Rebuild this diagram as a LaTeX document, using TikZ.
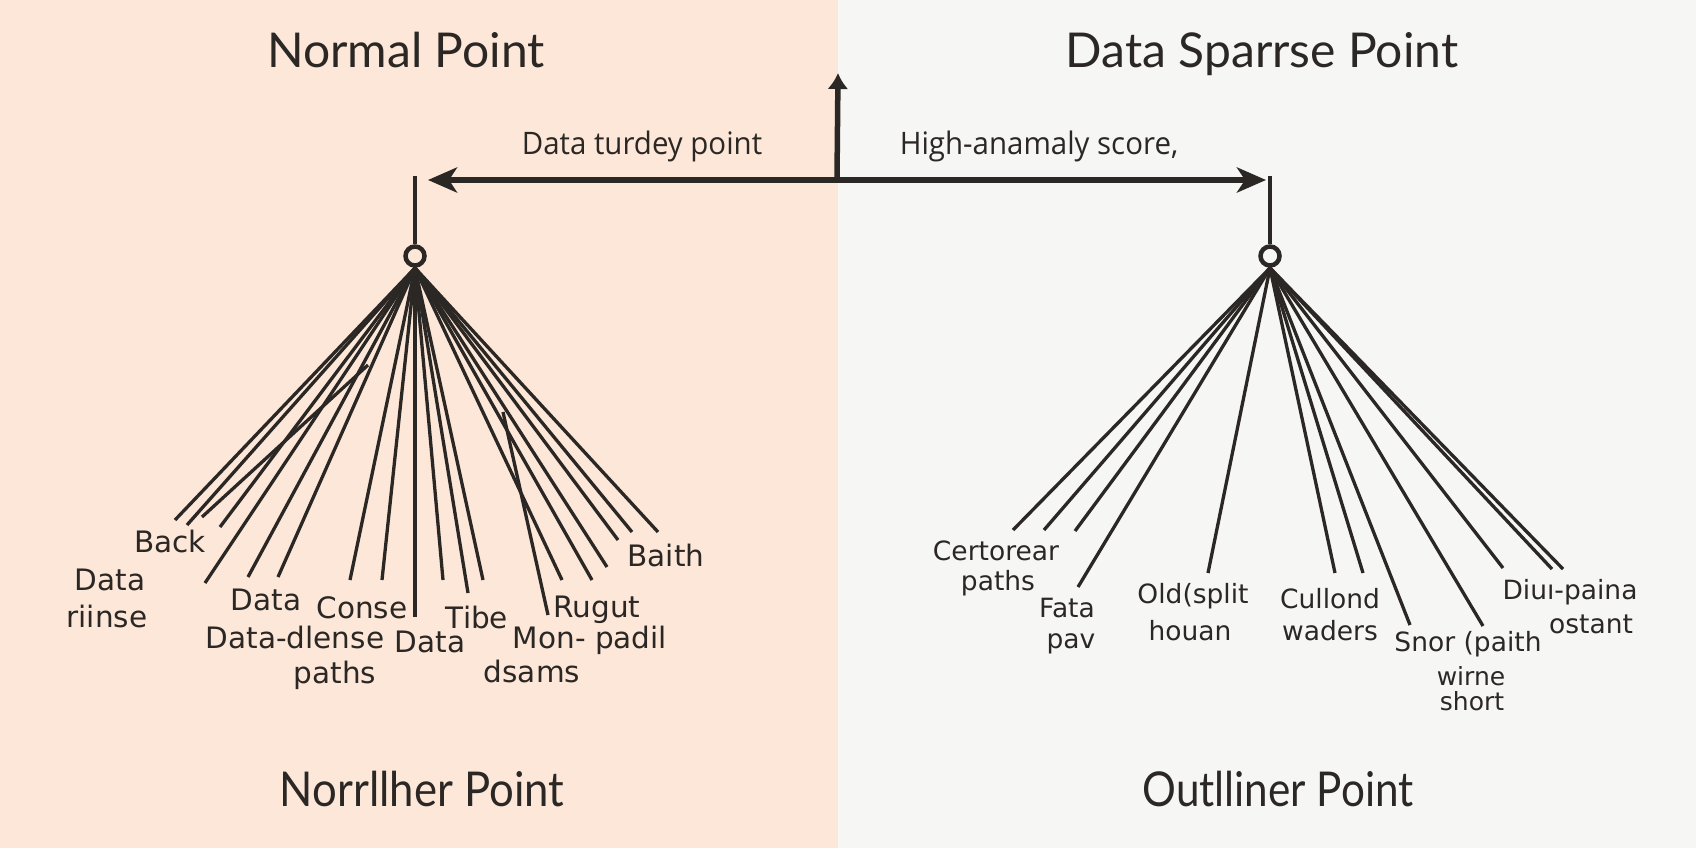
\documentclass[tikz,border=0pt]{standalone}
\usepackage{fontspec}
\usepackage{graphicx}
\setmainfont{DejaVu Sans}
\newfontfamily\titlefont{Lato}
\newfontfamily\condfont[FakeStretch=0.95]{Open Sans}
\usetikzlibrary{arrows.meta}
\definecolor{ink}{HTML}{2B2724}
\definecolor{peach}{HTML}{FCE7D8}
\definecolor{paper}{HTML}{F6F6F5}
\begin{document}
\begin{tikzpicture}[x=1pt,y=-1pt,
  fanline/.style={draw=ink,line width=3.3pt},
  mainline/.style={draw=ink,line width=5.5pt},
  stubline/.style={draw=ink,line width=4pt},
  hub/.style={circle,draw=ink,line width=4.5pt,minimum size=19pt,inner sep=0pt},
  ttl/.style={font=\titlefont\fontsize{48}{56}\selectfont,text=ink,anchor=base,inner sep=0pt},
  arrlbl/.style={font=\condfont\fontsize{31}{36}\selectfont,text=ink,anchor=base,inner sep=0pt},
  lbl/.style={font=\fontsize{29.5}{36}\selectfont,text=ink,anchor=base,inner sep=0pt},
  rlbl/.style={font=\fontsize{26.5}{32}\selectfont,text=ink,anchor=base,inner sep=0pt},
  slbl/.style={font=\fontsize{25}{30}\selectfont,text=ink,anchor=base,inner sep=0pt}]
\useasboundingbox (0,0) rectangle (1696,848);
\fill[peach] (0,0) rectangle (838,848);
\fill[paper] (838,0) rectangle (1696,848);

% titles
\node[ttl] (t1) at (406,68) {Normal Point};
\node[ttl] (t2) at (1262,68) {Data Sparrse Point};
\node[ttl] (t3) at (422,806) {\scalebox{0.91}[1]{Norrllher Point}};
\node[ttl] (t4) at (1278,806) {\scalebox{0.88}[1]{Outlliner Point}};

% arrow labels
\node[arrlbl] (a1) at (642,154) {Data turdey point};
\node[arrlbl] (a2) at (1039,154) {High-anamaly score,};

% hubs
\node[hub,fill=peach] (hubL) at (415,256) {};
\node[hub,fill=paper] (hubR) at (1270,256) {};
\coordinate (topL) at (415,176);
\coordinate (topR) at (1270,176);
\coordinate (mid) at (837,180);
\coordinate (tipL) at (428,180);
\coordinate (tipR) at (1266,180);
\coordinate (tipU) at (838,73);

\draw[stubline] (hubL.north) -- (topL);
\draw[stubline] (hubR.north) -- (topR);
\draw[mainline,-{Stealth[length=29pt,width=25pt,inset=8pt]}] (mid) -- (tipL);
\draw[mainline,-{Stealth[length=29pt,width=25pt,inset=8pt]}] (mid) -- (tipR);
\draw[mainline,-{Latex[length=16pt,width=21pt]}] ([yshift=2.5pt]mid) -- (tipU);

% left fan
\coordinate (apL) at (415,268);
\foreach \n/\x/\y in {1/175/520,2/187/525,3/220/527,4/205/583,5/248/577,6/278/577,
  7/350/580,8/382/580,9/415/617,10/443/580,11/468/593,12/483/580,13/562/580,
  14/592/580,15/607/567,16/618/540,17/632/532,18/658/532}
  \coordinate (L\n) at (\x,\y);
\foreach \n in {1,...,18} \draw[fanline] (apL) -- (L\n);
\coordinate (pA1) at (368,365); \coordinate (pA2) at (202,517);
\coordinate (pB1) at (503,412); \coordinate (pB2) at (548,615);
\draw[fanline] (pA1) -- (pA2);
\draw[fanline] (pB1) -- (pB2);

% right fan
\coordinate (apR) at (1270,268);
\foreach \n/\x/\y in {1/1013/530,2/1044/530,3/1075/531,4/1078/587,5/1208/573,
  6/1335/573,7/1363/573,8/1410/625,9/1483/626,10/1503/568,11/1552/569,12/1563/569}
  \coordinate (R\n) at (\x,\y);
\foreach \n in {1,...,12} \draw[fanline] (apR) -- (R\n);

% left labels
\node[lbl] (l1) at (170,552) {Back};
\node[lbl] (l2) at (110,590) {Data};
\node[lbl] (l3) at (107,627) {riinse};
\node[lbl] (l4) at (266,610) {Data};
\node[lbl] (l5) at (362,618) {Conse};
\node[lbl] (l6) at (295,648) {Data-dlense};
\node[lbl] (l7) at (335,683) {paths};
\node[lbl] (l8) at (430,652) {Data};
\node[lbl] (l9) at (477,628) {Tibe};
\node[lbl] (l10) at (597,617) {Rugut};
\node[lbl] (l11) at (590,648) {Mon- padil};
\node[lbl] (l12) at (532,682) {dsams};
\node[lbl] (l13) at (666,566) {Baith};

% right labels
\node[rlbl] (r1) at (996,560) {Certorear};
\node[rlbl] (r2) at (998,590) {paths};
\node[rlbl] (r3) at (1067,617) {Fata};
\node[rlbl] (r4) at (1071,648) {pav};
\node[rlbl] (r5) at (1193,603) {Old(split};
\node[rlbl] (r6) at (1190,640) {houan};
\node[rlbl] (r7) at (1330,608) {Cullond};
\node[rlbl] (r8) at (1330,640) {waders};
\node[rlbl] (r9) at (1468,651) {Snor (paith};
\node[slbl] (r10) at (1471,685) {wirne};
\node[slbl] (r11) at (1472,710) {short};
\node[rlbl] (r12) at (1570,599) {Diuı-paina};
\node[rlbl] (r13) at (1591,633) {ostant};
\end{tikzpicture}
\end{document}
